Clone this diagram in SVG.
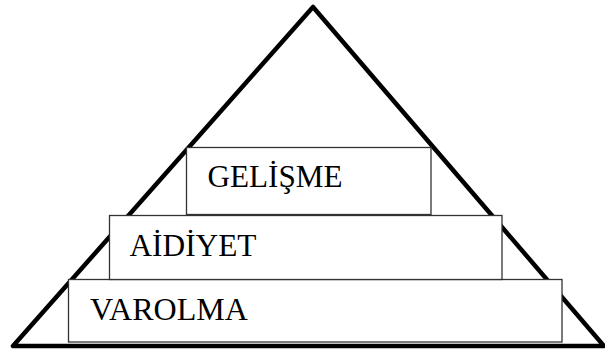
<svg xmlns="http://www.w3.org/2000/svg" width="605" height="349" viewBox="0 0 605 349">
<style>
.tri{fill:none;stroke:#000;stroke-width:4.5;stroke-linejoin:round}
.box{fill:#fff;stroke:#333;stroke-width:1.3}
.lbl{font-family:"Liberation Serif","Times New Roman",serif;font-size:31px;fill:#000}
</style>
<rect width="605" height="349" fill="#fff"/>
<g id="pyramid">
<polygon class="tri" points="313,7 13,346 604,346"/>
</g>
<g id="varolma">
<rect class="box" x="68.5" y="279.5" width="493.5" height="62.5"/>
<text class="lbl" x="90" y="320" textLength="158" lengthAdjust="spacingAndGlyphs">VAROLMA</text>
</g>
<g id="aidiyet">
<rect class="box" x="109.5" y="215.5" width="392.5" height="64"/>
<text class="lbl" x="129.5" y="255.5" textLength="127" lengthAdjust="spacingAndGlyphs">AİDİYET</text>
</g>
<g id="gelisme">
<rect class="box" x="186.5" y="147.5" width="244.5" height="67"/>
<text class="lbl" x="207.5" y="187" textLength="135" lengthAdjust="spacingAndGlyphs">GELİŞME</text>
</g>
<g id="connectors"></g>
</svg>
